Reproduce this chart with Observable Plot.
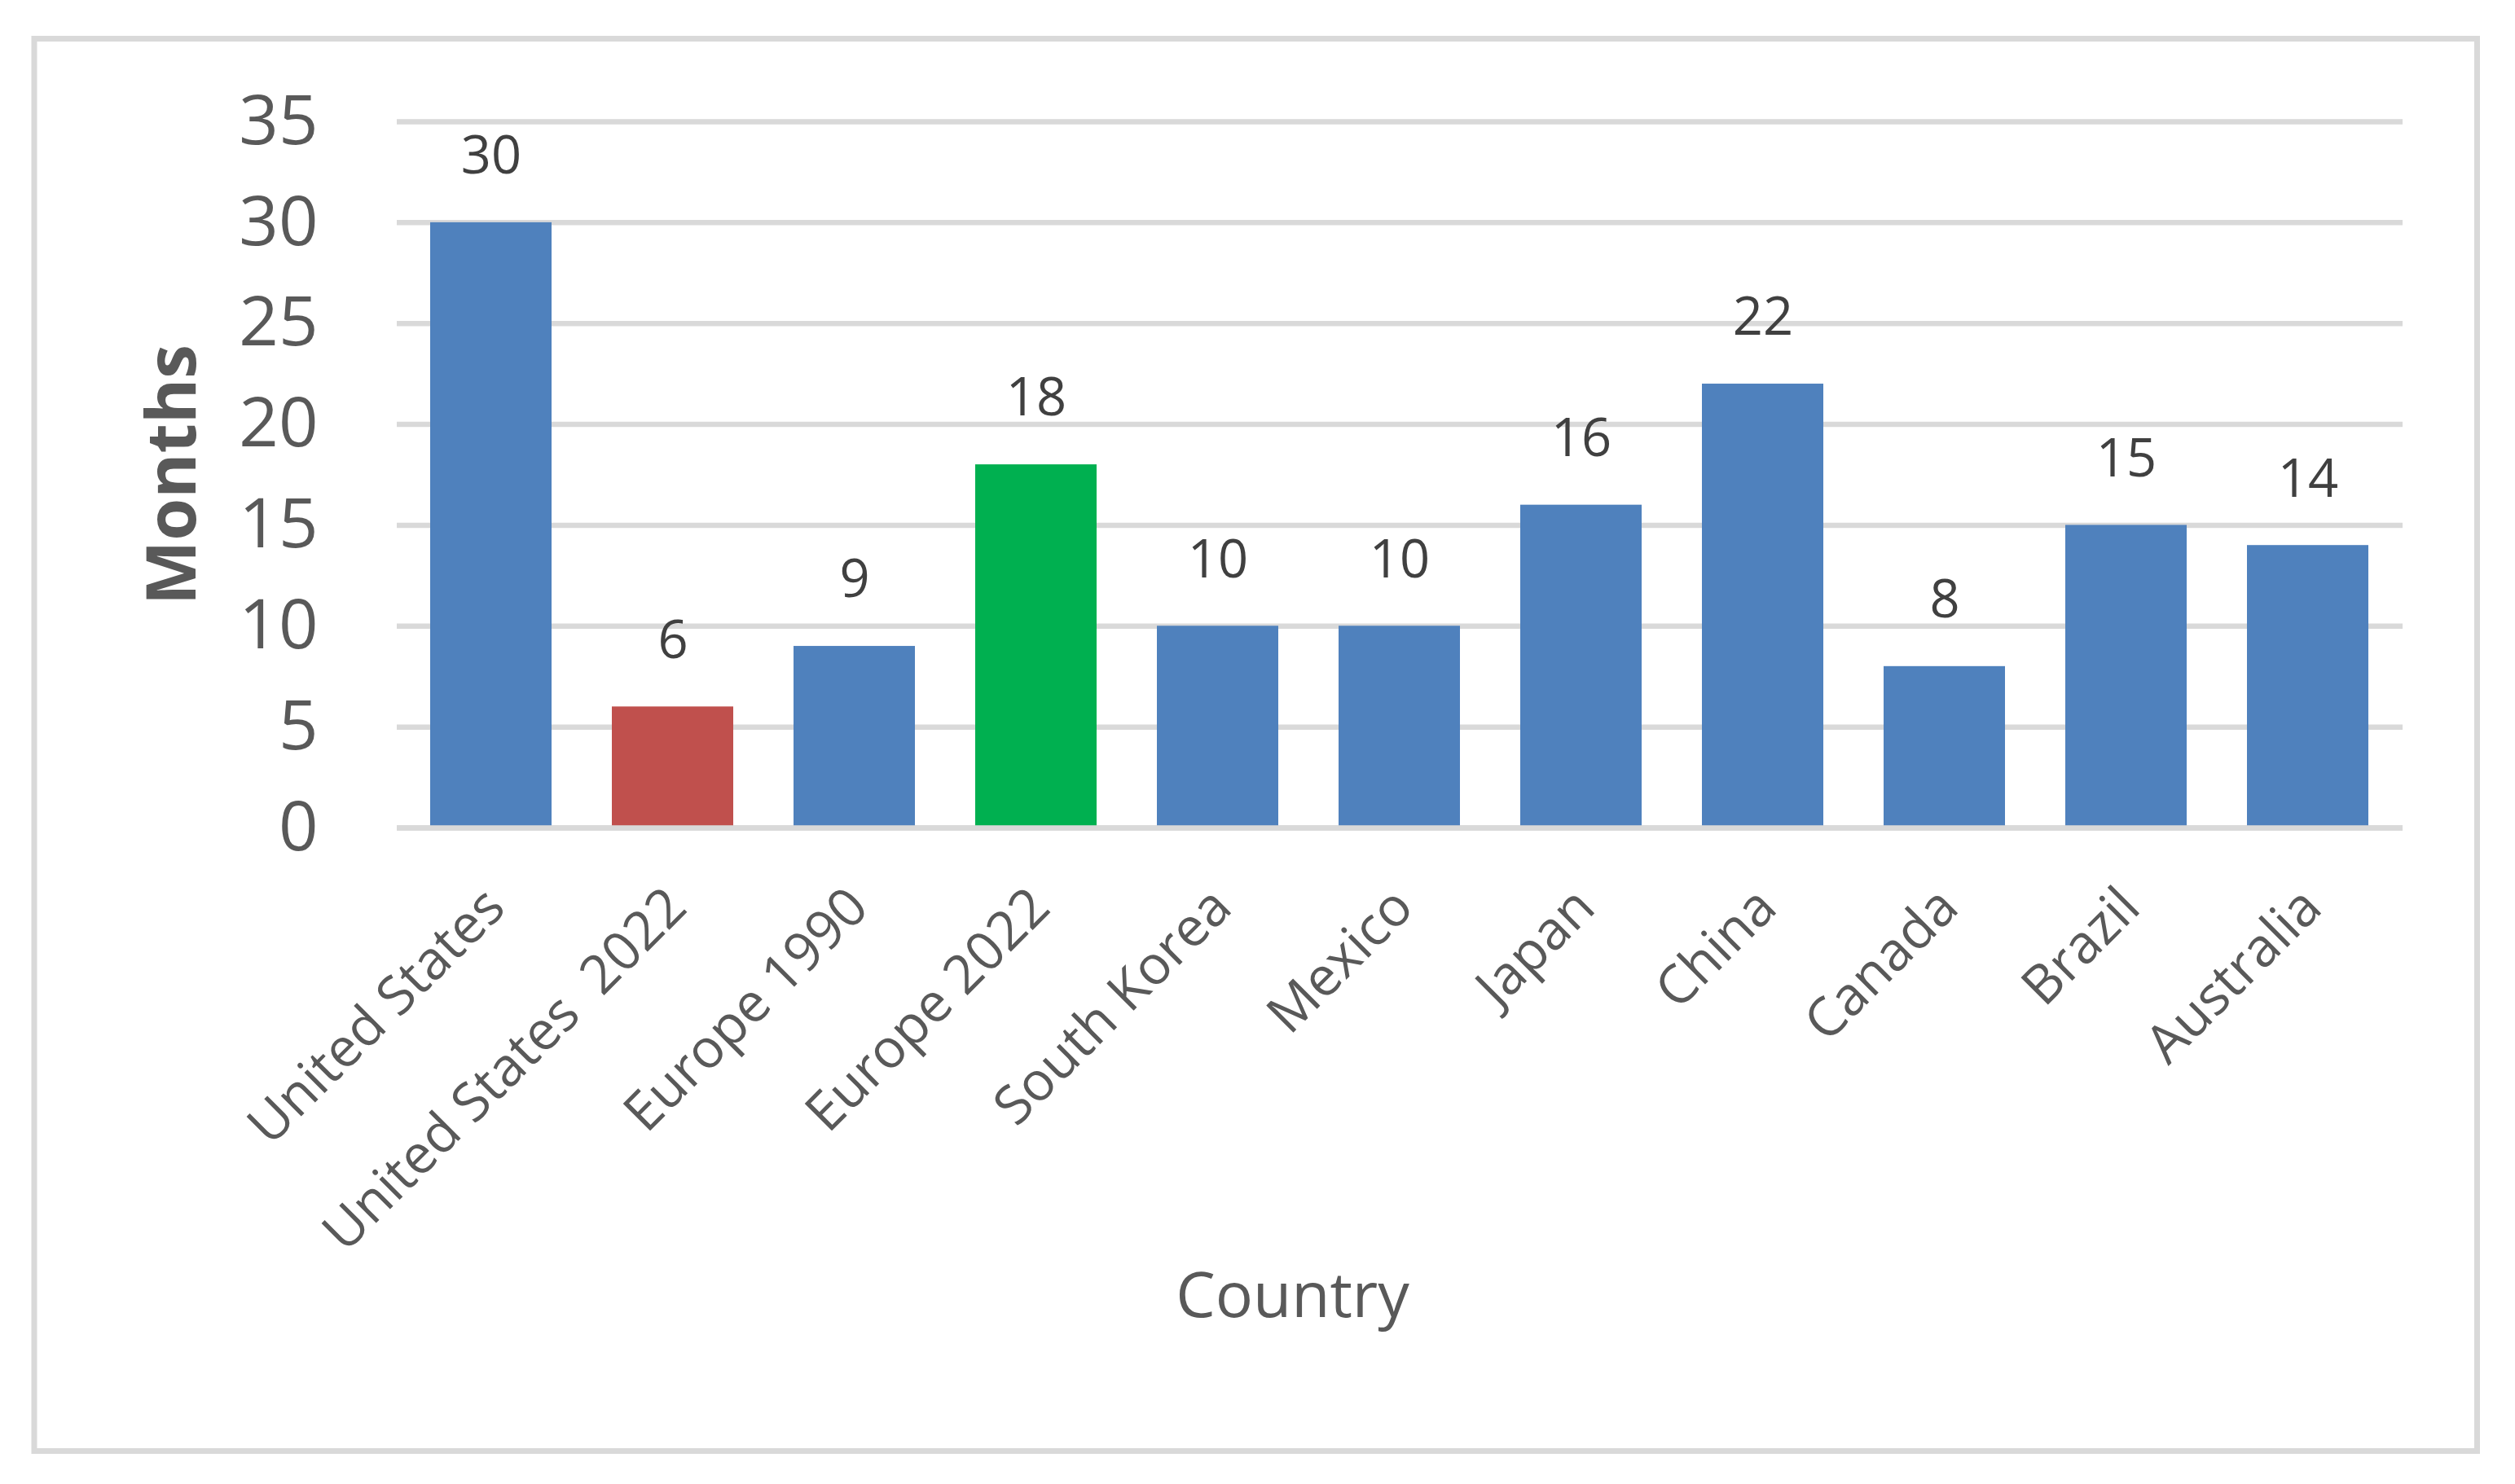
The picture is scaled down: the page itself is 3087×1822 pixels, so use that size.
<!DOCTYPE html>
<html>
<head>
<meta charset="utf-8">
<script src="https://cdn.jsdelivr.net/npm/d3@7"></script>
<script src="https://cdn.jsdelivr.net/npm/@observablehq/plot@0.6"></script>
<style>
  html, body { margin: 0; padding: 0; background: #ffffff; }
</style>
</head>
<body>
<div id="chart"></div>
<script>
// ---- data ----
const categories = ["United States", "United States\u00a0 2022", "Europe 1990", "Europe 2022", "South Korea", "Mexico", "Japan", "China", "Canada", "Brazil", "Australia"];
const months = [30, 6, 9, 18, 10, 10, 16, 22, 8, 15, 14];
const barColors = ["#4f81bd", "#c0504d", "#4f81bd", "#00b050", "#4f81bd", "#4f81bd", "#4f81bd", "#4f81bd", "#4f81bd", "#4f81bd", "#4f81bd"];
const yTicks = [0, 5, 10, 15, 20, 25, 30, 35];
const yTitle = "Months";
const xTitle = "Country";

const data = categories.map((c, i) => ({country: c, months: months[i]}));

const chart = Plot.plot({
  width: 3087,
  height: 1822,
  marginTop: 149,
  marginBottom: 806,
  marginLeft: 487,
  marginRight: 138,
  style: {fontFamily: "'Open Sans', 'Noto Sans', sans-serif", background: "#ffffff", overflow: "visible"},
  x: {domain: categories, paddingInner: 0.33, paddingOuter: 0.165, label: null},
  y: {domain: [0, 35], label: null},
  color: {domain: categories, range: barColors},
  marks: [
    Plot.frame({stroke: "#d9d9d9", strokeWidth: 7, insetLeft: -445.5, insetTop: -102, insetRight: -91, insetBottom: -765}),
    Plot.ruleY(yTicks, {stroke: "#d9d9d9", strokeWidth: 6.5}),
    Plot.barY(data, {x: "country", y: "months", fill: "country"}),
    Plot.ruleY([0], {stroke: "#d9d9d9", strokeWidth: 6.5}),
    Plot.text(data, {x: "country", y: "months", text: d => String(d.months), dy: -81, fontSize: 65, fill: "#404040"}),
    Plot.axisY({ticks: yTicks, tickSize: 0, tickPadding: 97, fontSize: 85, color: "#595959", label: null}),
    Plot.axisX({tickSize: 0, tickRotate: -45, tickPadding: 86, textAnchor: "end", lineAnchor: "middle", dx: 5, fontSize: 66, color: "#595959", label: null}),
    Plot.text([yTitle], {text: d => d, frameAnchor: "left", textAnchor: "middle", rotate: -90, dx: -274, fontSize: 84, fontWeight: "bold", fill: "#595959"}),
    Plot.text([xTitle], {text: d => d, frameAnchor: "bottom", textAnchor: "middle", dx: -132, dy: 600, fontSize: 77, fill: "#595959"})
  ]
});
document.getElementById("chart").appendChild(chart);
</script>
</body>
</html>
